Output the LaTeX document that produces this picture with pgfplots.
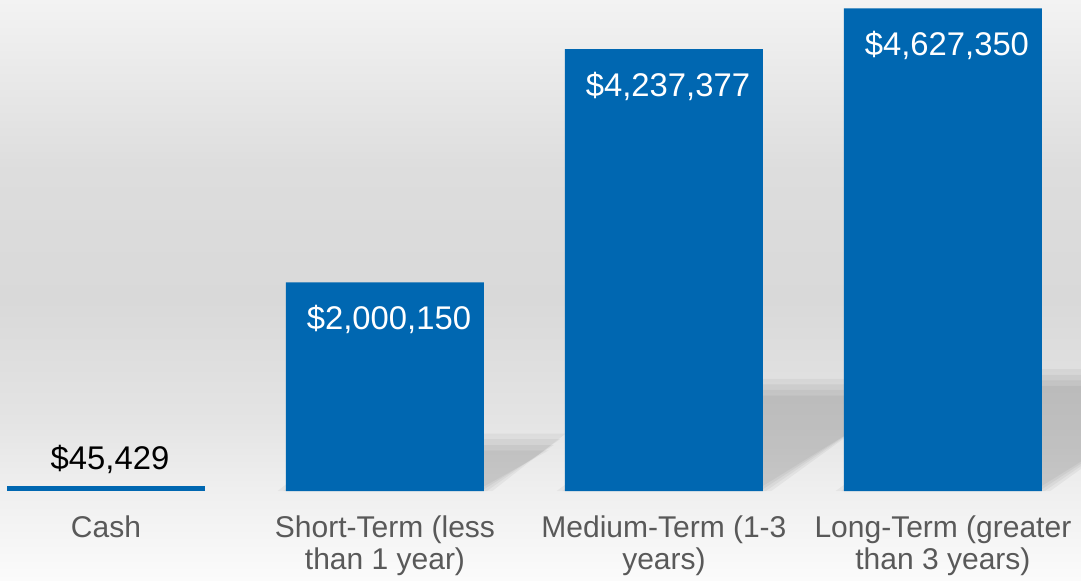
\documentclass[border=0pt]{standalone}
\usepackage{pgfplots}
\pgfplotsset{compat=1.18}
\usepackage{fontspec}
\setmainfont{Liberation Sans}

\definecolor{barblue}{RGB}{0,103,177}
\definecolor{labgray}{RGB}{89,89,89}
\definecolor{bgA}{RGB}{251,251,251}
\definecolor{bgB}{RGB}{239,239,239}
\definecolor{bgC}{RGB}{228,228,228}
\definecolor{bgD}{RGB}{217,217,217}
\definecolor{bgE}{RGB}{221,221,221}
\definecolor{bgF}{RGB}{243,243,243}

% 25bp = bottom of picture, 75bp = top
\pgfdeclareverticalshading{chartbg}{100bp}{%
  color(0bp)=(bgA); color(25bp)=(bgA); color(32.8bp)=(bgB);
  color(38.8bp)=(bgC); color(49.1bp)=(bgD); color(60.3bp)=(bgE);
  color(75bp)=(bgF); color(100bp)=(bgF)}

% perspective shadow of a bar: centre, value (millions), grow, opacity
\newcommand{\barshadow}[4]{%
  \fill[black, fill opacity=#4]
    ({#1-0.355-#3},0) -- ({#1+0.355+#3},0)
    -- ({#1+0.355+#3+0.131*#2},{0.235*#2+2.67*#3})
    -- ({#1-0.355-#3+0.131*#2},{0.235*#2+2.67*#3}) -- cycle;}

\begin{document}
\begin{tikzpicture}
  % background, 1px = 0.5pt
  \shade[shading=chartbg] (0,-44.5pt) rectangle (540.5pt,245.5pt);

  \begin{axis}[
      scale only axis,
      width=540.5pt,
      height=245.5pt,
      xmin=-0.380, xmax=3.495,
      ymin=0, ymax=4.7076,
      axis line style={draw=none},
      ytick=\empty,
      xtick={0,1,2,3},
      xticklabels={Cash, Short-Term (less\\than 1 year), Medium-Term (1-3\\years), Long-Term (greater\\than 3 years)},
      xticklabel style={align=center, text=labgray, inner sep=0pt,
                        font=\fontsize{15}{16}\selectfont, yshift=-12pt},
      major x tick style={draw=none},
      point meta=explicit symbolic,
    ]

    % soft shadows behind the bars
    \barshadow{1}{2.000150}{-0.03}{0.045}
    \barshadow{1}{2.000150}{-0.01}{0.045}
    \barshadow{1}{2.000150}{0.01}{0.045}
    \barshadow{1}{2.000150}{0.03}{0.045}
    \barshadow{2}{4.237377}{-0.03}{0.045}
    \barshadow{2}{4.237377}{-0.01}{0.045}
    \barshadow{2}{4.237377}{0.01}{0.045}
    \barshadow{2}{4.237377}{0.03}{0.045}
    \barshadow{3}{4.627350}{-0.03}{0.045}
    \barshadow{3}{4.627350}{-0.01}{0.045}
    \barshadow{3}{4.627350}{0.01}{0.045}
    \barshadow{3}{4.627350}{0.03}{0.045}

    % Cash: label above the bar
    \addplot[ybar, bar width=99pt, bar shift=0pt, fill=barblue, draw=none,
             nodes near coords,
             nodes near coords style={anchor=base, yshift=8.5pt, xshift=2pt,
               text=black, font=\fontsize{16.4}{19}\selectfont}]
      coordinates {(0,0.045429) [\$45,429]};

    % other bars: label inside near the top
    \addplot[ybar, bar width=99pt, bar shift=0pt, fill=barblue, draw=none,
             nodes near coords,
             nodes near coords style={anchor=base, yshift=-23.5pt, xshift=2pt,
               text=white, font=\fontsize{16.4}{19}\selectfont}]
      coordinates {(1,2.000150) [\$2,000,150]
                   (2,4.237377) [\$4,237,377]
                   (3,4.627350) [\$4,627,350]};
  \end{axis}
  \pgfresetboundingbox
  \path (0,-44.5pt) rectangle (540.5pt,245.5pt);
\end{tikzpicture}
\end{document}
